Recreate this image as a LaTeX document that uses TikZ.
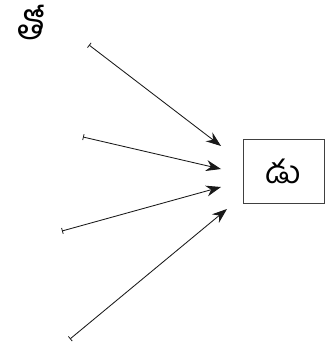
\documentclass[tikz,border=0pt]{standalone}
\usepackage{fontspec}
\newfontfamily\telugu[Script=Telugu]{Hind Guntur}
\usetikzlibrary{arrows.meta}
\begin{document}
\begin{tikzpicture}[x=1pt,y=-1pt,
  conn/.style={draw=black!90, line width=0.85pt, {Bar[width=6pt,line width=0.8pt]}-{Stealth[length=15pt,width=11pt]}},
  boxnode/.style={draw=black!75, line width=0.9pt, minimum width=81pt, minimum height=64pt, inner sep=0pt, font=\telugu\fontsize{32}{34}\selectfont},
  lbl/.style={font=\telugu\fontsize{36}{38}\selectfont, inner sep=0pt}]
\useasboundingbox (0,0) rectangle (334,342);
\node[lbl] (t) at (31,22) {తో};
\node[boxnode] (b) at (283.5,171) {\raisebox{-3pt}{డు}};
\coordinate (s1) at (89,45);
\coordinate (s2) at (83,137);
\coordinate (s3) at (62,231);
\coordinate (s4) at (70,339);
\coordinate (e1) at (221,146);
\coordinate (e2) at (221,169);
\coordinate (e3) at (221,187);
\coordinate (e4) at (227,209);
\draw[conn] (s1) -- (e1);
\draw[conn] (s2) -- (e2);
\draw[conn] (s3) -- (e3);
\draw[conn] (s4) -- (e4);
\end{tikzpicture}
\end{document}
